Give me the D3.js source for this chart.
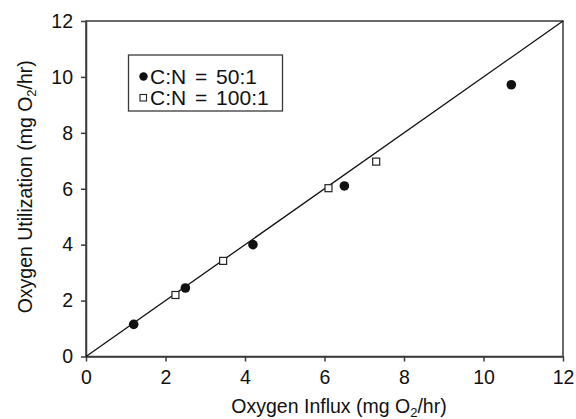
<!DOCTYPE html>
<html>
<head>
<meta charset="utf-8">
<script src="https://cdn.jsdelivr.net/npm/d3@7"></script>
<style>
  body { margin: 0; background: #fff; }
  svg { display: block; font-family: "Liberation Sans", Arial, sans-serif; }
</style>
</head>
<body>
<svg id="chart" width="576" height="419"></svg>
<script>
// C:N = 50:1 series (filled circles)
const cn50X = [1.2, 2.5, 4.2, 6.5, 10.7];
const cn50Y = [1.15, 2.45, 4.0, 6.1, 9.72];
// C:N = 100:1 series (open squares)
const cn100X = [2.25, 3.45, 6.1, 7.3];
const cn100Y = [2.2, 3.42, 6.02, 6.97];
const xTicks = [0, 2, 4, 6, 8, 10, 12];
const yTicks = [0, 2, 4, 6, 8, 10, 12];
const legendLabels = ['C:N = 50:1', 'C:N = 100:1'];

const svg = d3.select('#chart');
const margin = { top: 21, right: 13, bottom: 62.5, left: 86 };
const width = 576, height = 419;
const x = d3.scaleLinear().domain([0, 12]).range([margin.left, width - margin.right]);
const y = d3.scaleLinear().domain([0, 12]).range([height - margin.bottom, margin.top]);
const axisColor = '#3a3a3a';

// frame
svg.append('rect')
  .attr('x', x(0)).attr('y', y(12))
  .attr('width', x(12) - x(0)).attr('height', y(0) - y(12))
  .attr('fill', 'none').attr('stroke', axisColor).attr('stroke-width', 1.5);

// axes
const xAxis = svg.append('g')
  .attr('transform', `translate(0,${y(0)})`)
  .call(d3.axisBottom(x).tickValues(xTicks).tickSize(5).tickSizeOuter(0).tickPadding(9));
const yAxis = svg.append('g')
  .attr('transform', `translate(${x(0)},0)`)
  .call(d3.axisLeft(y).tickValues(yTicks).tickSize(5).tickSizeOuter(0).tickPadding(8));

[xAxis, yAxis].forEach(ax => {
  ax.select('.domain').attr('stroke', axisColor).attr('stroke-width', 1.5);
  ax.selectAll('.tick line').attr('stroke', axisColor).attr('stroke-width', 1.5);
  ax.selectAll('.tick text')
    .attr('fill', '#111')
    .style('font-size', '19.5px')
    .style('font-family', '"Liberation Sans", Arial, sans-serif');
});

// 1:1 line
svg.append('line')
  .attr('x1', x(0)).attr('y1', y(0))
  .attr('x2', x(12)).attr('y2', y(12))
  .attr('stroke', '#111').attr('stroke-width', 1.3);

// points
const cn50 = cn50X.map((v, i) => ({ x: v, y: cn50Y[i] }));
const cn100 = cn100X.map((v, i) => ({ x: v, y: cn100Y[i] }));

svg.append('g').selectAll('circle')
  .data(cn50).enter().append('circle')
  .attr('cx', d => x(d.x)).attr('cy', d => y(d.y))
  .attr('r', 4.8).attr('fill', '#111');

const sq = 7;
svg.append('g').selectAll('rect')
  .data(cn100).enter().append('rect')
  .attr('x', d => x(d.x) - sq / 2).attr('y', d => y(d.y) - sq / 2)
  .attr('width', sq).attr('height', sq)
  .attr('fill', '#fff').attr('stroke', '#222').attr('stroke-width', 1.2);

// legend
const legend = svg.append('g');
legend.append('rect')
  .attr('x', 128.5).attr('y', 55)
  .attr('width', 154).attr('height', 56)
  .attr('fill', '#fff').attr('stroke', axisColor).attr('stroke-width', 1.3);

legend.append('circle').attr('cx', 143.5).attr('cy', 76.5).attr('r', 4.2).attr('fill', '#111');
legend.append('rect').attr('x', 140).attr('y', 94.5).attr('width', 6.5).attr('height', 6.5)
  .attr('fill', '#fff').attr('stroke', '#222').attr('stroke-width', 1.1);

legend.selectAll('text.leg')
  .data(legendLabels).enter().append('text')
  .attr('class', 'leg')
  .attr('x', 150).attr('y', (d, i) => 83.5 + i * 21.5)
  .attr('fill', '#111')
  .style('font-size', '21px')
  .style('word-spacing', '3px')
  .text(d => d);

// axis titles
const xTitle = svg.append('text')
  .attr('x', 339).attr('y', 413)
  .attr('text-anchor', 'middle')
  .attr('fill', '#111')
  .style('font-size', '19.5px');
xTitle.append('tspan').text('Oxygen Influx (mg O');
xTitle.append('tspan').attr('dy', 4).style('font-size', '13px').text('2');
xTitle.append('tspan').attr('dy', -4).text('/hr)');

const yTitle = svg.append('text')
  .attr('transform', `translate(32,${(y(0) + y(12)) / 2 - 2}) rotate(-90)`)
  .attr('text-anchor', 'middle')
  .attr('fill', '#111')
  .style('font-size', '19.5px');
yTitle.append('tspan').text('Oxygen Utilization (mg O');
yTitle.append('tspan').attr('dy', 4).style('font-size', '13px').text('2');
yTitle.append('tspan').attr('dy', -4).text('/hr)');
</script>
</body>
</html>
